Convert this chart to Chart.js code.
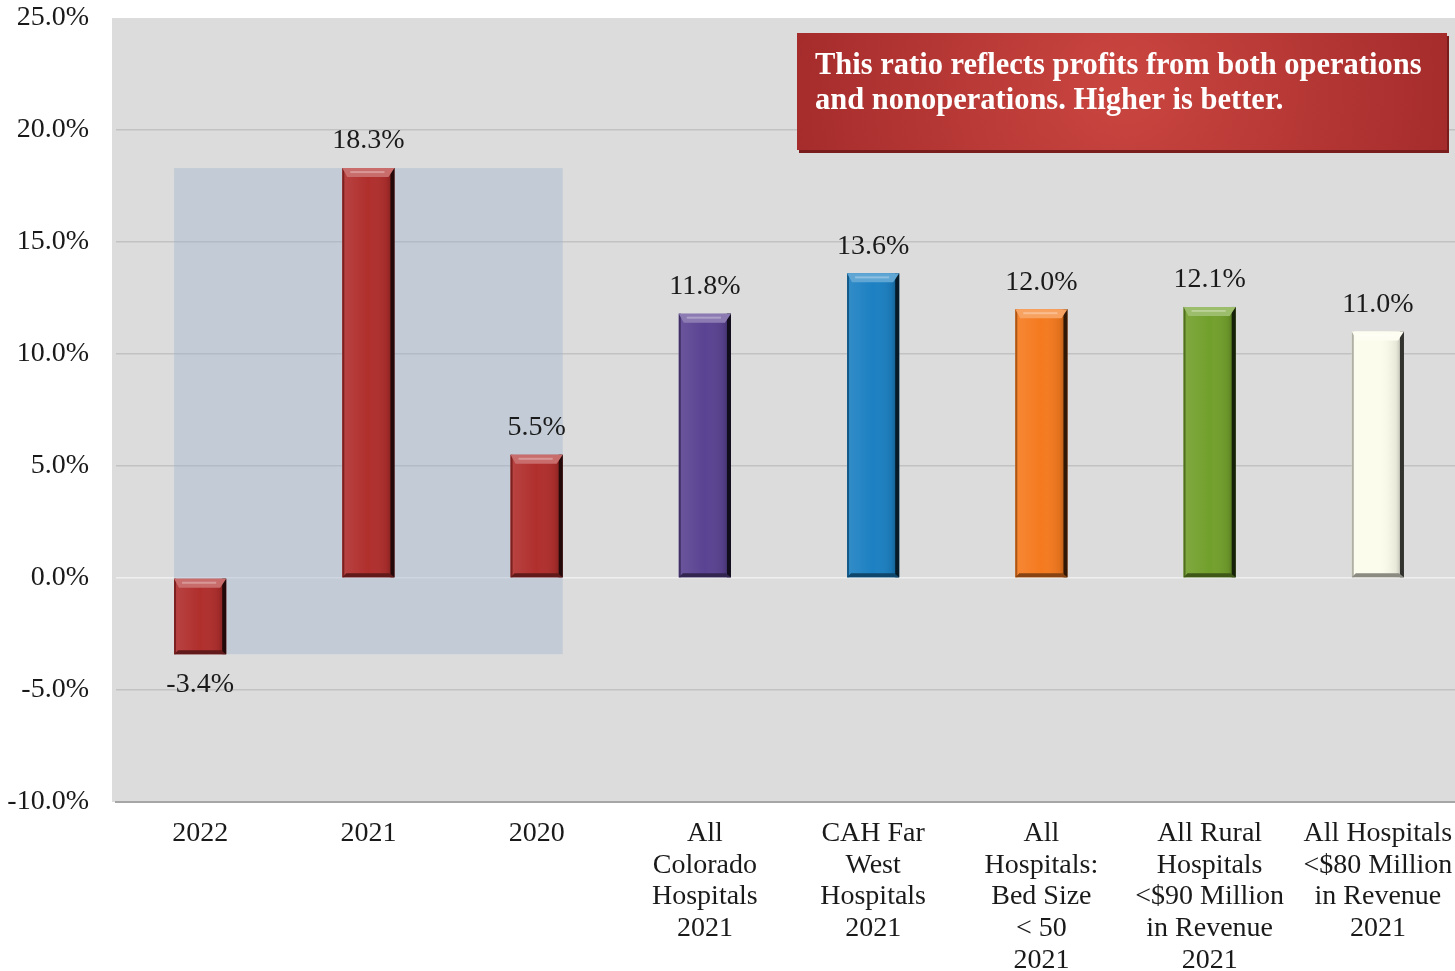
<!DOCTYPE html>
<html>
<head>
<meta charset="utf-8">
<script src="https://cdn.jsdelivr.net/npm/chart.js@4.4.1/dist/chart.umd.min.js"></script>
<style>
html, body { margin:0; padding:0; background:#fff; overflow:hidden; }
#Chart1 { display:block; }
</style>
</head>
<body>
<canvas id="Chart1" width="1462" height="971"></canvas>
<script>

// categorias del eje x (multilinea)
let Categorias = [
    "2022",
    "2021",
    "2020",
    ["All", "Colorado", "Hospitals", "2021"],
    ["CAH Far", "West", "Hospitals", "2021"],
    ["All", "Hospitals:", "Bed Size", "< 50", "2021"],
    ["All Rural", "Hospitals", "<$90 Million", "in Revenue", "2021"],
    ["All Hospitals", "<$80 Million", "in Revenue", "2021"]
]
let Valores = [-3.4, 18.3, 5.5, 11.8, 13.6, 12.0, 12.1, 11.0]
let Colores = ["#b02f2d", "#b02f2d", "#b02f2d", "#5a4392", "#1c80c2", "#f57a1f", "#72a02c", "#fcfcec"]
let Ticks_Y = [-10, -5, 0, 5, 10, 15, 20, 25]
let Nota = ["This ratio reflects profits from both operations", "and nonoperations. Higher is better."]
let Historico = 3   // las primeras tres barras son los años propios

const fuente = "'Liberation Serif', 'Times New Roman', serif"

function mezclar(hex, otro, t){
    const a = parseInt(hex.slice(1), 16), b = parseInt(otro.slice(1), 16)
    const r = Math.round(((a >> 16) & 255) * (1 - t) + ((b >> 16) & 255) * t)
    const g = Math.round(((a >> 8) & 255) * (1 - t) + ((b >> 8) & 255) * t)
    const bl = Math.round((a & 255) * (1 - t) + (b & 255) * t)
    return `rgb(${r},${g},${bl})`
}

// fondo gris del area del grafico
const fondoPlugin = {
    id: "fondo",
    beforeDraw(chart){
        const {ctx, chartArea: a} = chart
        ctx.save()
        ctx.fillStyle = "#dcdcdc"
        ctx.fillRect(a.left - 4, a.top, a.right - a.left + 4, a.bottom - a.top)
        ctx.restore()
    }
}

// caja azulada detras de los años 2022-2020
const cajaPlugin = {
    id: "caja",
    beforeDatasetsDraw(chart){
        const {ctx} = chart
        const bars = chart.getDatasetMeta(0).data
        const y = chart.scales.y
        const propios = Valores.slice(0, Historico)
        const x1 = bars[0].x - bars[0].width / 2
        const x2 = bars[Historico - 1].x + bars[Historico - 1].width / 2
        const y1 = y.getPixelForValue(Math.max(...propios, 0))
        const y2 = y.getPixelForValue(Math.min(...propios, 0))
        ctx.save()
        ctx.fillStyle = "rgba(160,182,204,0.42)"
        ctx.fillRect(x1, y1, x2 - x1, y2 - y1)
        ctx.restore()
    }
}

// bisel de cada barra + etiquetas de valor
const biselPlugin = {
    id: "bisel",
    afterDatasetsDraw(chart){
        const {ctx} = chart
        const bars = chart.getDatasetMeta(0).data
        bars.forEach((bar, i) => {
            const c = Colores[i]
            const w = bar.width
            const l = bar.x - w / 2, r = bar.x + w / 2
            const top = Math.min(bar.y, bar.base), bot = Math.max(bar.y, bar.base)
            ctx.save()
            // sombreado horizontal
            const g = ctx.createLinearGradient(l, 0, r, 0)
            g.addColorStop(0, "rgba(255,255,255,0.10)")
            g.addColorStop(0.5, "rgba(255,255,255,0)")
            g.addColorStop(0.85, "rgba(0,0,0,0.08)")
            g.addColorStop(1, "rgba(0,0,0,0.35)")
            ctx.fillStyle = g
            ctx.fillRect(l, top, w, bot - top)
            // borde derecho oscuro
            ctx.fillStyle = mezclar(c, "#000000", 0.8)
            ctx.fillRect(r - 4, top, 4, bot - top)
            // borde izquierdo
            ctx.fillStyle = mezclar(c, "#000000", 0.3)
            ctx.fillRect(l, top, 2, bot - top)
            // tapa superior clara
            ctx.beginPath()
            ctx.moveTo(l, top)
            ctx.lineTo(r, top)
            ctx.lineTo(r - 6, top + 9)
            ctx.lineTo(l + 5, top + 9)
            ctx.closePath()
            ctx.fillStyle = mezclar(c, "#ffffff", 0.3)
            ctx.fill()
            ctx.fillStyle = mezclar(c, "#ffffff", 0.5)
            ctx.fillRect(l + 8, top + 3, w - 18, 2)
            // base inferior
            ctx.beginPath()
            ctx.moveTo(l, bot)
            ctx.lineTo(r, bot)
            ctx.lineTo(r - 5, bot - 4)
            ctx.lineTo(l + 4, bot - 4)
            ctx.closePath()
            ctx.fillStyle = mezclar(c, "#000000", 0.45)
            ctx.fill()
            ctx.restore()

            // valor
            const v = Valores[i]
            ctx.save()
            ctx.font = `28px ${fuente}`
            ctx.fillStyle = "#1a1a1a"
            ctx.textAlign = "center"
            ctx.textBaseline = "middle"
            const ty = v >= 0 ? bar.y - 27 : bar.y + 30
            ctx.fillText(`${v.toFixed(1)}%`, bar.x, ty)
            ctx.restore()
        })
    }
}

// nota roja arriba a la derecha
const notaPlugin = {
    id: "nota",
    afterDraw(chart){
        const {ctx} = chart
        const x = 797, y = 33, w = 650, h = 117
        ctx.save()
        ctx.fillStyle = "#7a1d1d"
        ctx.fillRect(x + 2, y + 3, w, h)
        const g = ctx.createRadialGradient(x + w / 2, y + h * 0.45, 20, x + w / 2, y + h / 2, w * 0.55)
        g.addColorStop(0, "#c8443f")
        g.addColorStop(1, "#a22a2a")
        ctx.fillStyle = g
        ctx.fillRect(x, y, w, h)
        ctx.font = `bold 30.5px ${fuente}`
        ctx.fillStyle = "#ffffff"
        ctx.textBaseline = "middle"
        ctx.fillText(Nota[0], 815, 66)
        ctx.fillText(Nota[1], 815, 101)
        ctx.restore()
    }
}

new Chart(document.getElementById("Chart1"), {
    type: "bar",
    data: {
        labels: Categorias,
        datasets: [{
            label: "Total margin",
            data: Valores,
            backgroundColor: Colores,
            borderWidth: 0,
            categoryPercentage: 1,
            barPercentage: 0.31
        }]
    },
    options: {
        responsive: false,
        animation: false,
        layout: { padding: { top: 18, right: 0, left: 0, bottom: 0 } },
        plugins: {
            legend: { display: false },
            tooltip: { enabled: false },
            title: { display: false }
        },
        scales: {
            x: {
                grid: { display: false },
                border: { display: true, color: "#a6a6a6", width: 2 },
                ticks: {
                    color: "#1a1a1a",
                    font: { family: fuente, size: 28, lineHeight: 1.13 },
                    padding: 8,
                    maxRotation: 0,
                    autoSkip: false
                },
                afterFit: scale => { scale.height = 169 }
            },
            y: {
                min: -10,
                max: 25,
                afterBuildTicks: scale => { scale.ticks = Ticks_Y.map(v => ({ value: v })) },
                afterFit: scale => {
                    scale.width = 116
                    scale.paddingTop = 0
                    scale.paddingBottom = 0
                },
                border: { display: false },
                grid: {
                    drawTicks: false,
                    lineWidth: 1.5,
                    color: ctx => {
                        const v = ctx.tick && ctx.tick.value
                        if (v === 25) return "rgba(0,0,0,0)"
                        if (v === 0) return "#efefef"
                        return "#c2c2c2"
                    }
                },
                ticks: {
                    color: "#1a1a1a",
                    font: { family: fuente, size: 28 },
                    padding: 27,
                    callback: v => `${v.toFixed(1)}%`
                }
            }
        }
    },
    plugins: [fondoPlugin, cajaPlugin, biselPlugin, notaPlugin]
})
</script>
</body>
</html>
